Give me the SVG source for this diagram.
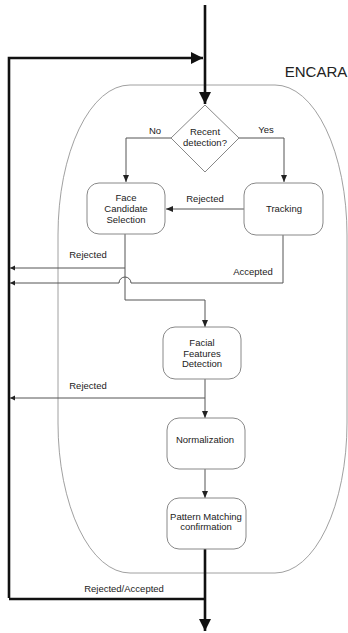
<svg xmlns="http://www.w3.org/2000/svg" width="348" height="633" viewBox="0 0 348 633">
<style>
text{font-family:"Liberation Sans",Arial,sans-serif;font-size:9.5px;fill:#222;text-anchor:middle}
.box{fill:#fff;stroke:#888;stroke-width:1}
.thin{fill:none;stroke:#555;stroke-width:1}
.thick{fill:none;stroke:#111;stroke-width:2.6}
</style>
<defs>
<marker id="ah" markerWidth="8" markerHeight="8" refX="7" refY="4" orient="auto" markerUnits="userSpaceOnUse"><path d="M0,1 L7,4 L0,7 Z" fill="#222"/></marker>
<marker id="as" markerWidth="6" markerHeight="6" refX="5" refY="3" orient="auto" markerUnits="userSpaceOnUse"><path d="M0,0.5 L5,3 L0,5.5 Z" fill="#222"/></marker>
<marker id="ab" markerWidth="14" markerHeight="14" refX="12" refY="7" orient="auto" markerUnits="userSpaceOnUse"><path d="M0,1 L12,7 L0,13 Z" fill="#111"/></marker>
</defs>
<g id="encara">
<rect x="58" y="85" width="289" height="488" rx="72" ry="150" fill="none" stroke="#888" stroke-width="0.8"/>
<text x="316" y="77" style="font-size:15px">ENCARA</text>
</g>
<g id="connectors">
<path class="thick" d="M205,5 V104" marker-end="url(#ab)"/>
<path class="thick" d="M9,598 V58 H203" marker-end="url(#ab)"/>
<path class="thick" d="M205,549 V631" marker-end="url(#ab)"/>
<path class="thick" d="M9,599 H205"/>
<path class="thin" d="M171,138 H126 V182" marker-end="url(#ah)"/>
<path class="thin" d="M239,138 H284 V182" marker-end="url(#ah)"/>
<path class="thin" d="M244,209 H166" marker-end="url(#ah)"/>
<path class="thin" d="M125,234 V300 H205 V327" marker-end="url(#ah)"/>
<path class="thin" d="M125,268 H10" marker-end="url(#as)"/>
<path class="thin" d="M283,235 V283 H131 A6,6 0 0 0 119,283 H10" marker-end="url(#as)"/>
<path class="thin" d="M205,379 V418" marker-end="url(#ah)"/>
<path class="thin" d="M205,398 H10" marker-end="url(#as)"/>
<path class="thin" d="M205,469 V498" marker-end="url(#ah)"/>
<text x="155" y="134">No</text>
<text x="266" y="133">Yes</text>
<text x="205" y="202">Rejected</text>
<text x="88" y="258">Rejected</text>
<text x="253" y="275">Accepted</text>
<text x="88" y="389">Rejected</text>
<text x="124" y="592">Rejected/Accepted</text>
</g>
<g id="decision">
<polygon class="box" points="205,105 239,138 205,172 171,138"/>
<text x="205" y="135">Recent</text>
<text x="205" y="146">detection?</text>
</g>
<g id="face-candidate">
<rect class="box" x="87" y="183" width="78" height="51" rx="12"/>
<text x="126" y="201">Face</text>
<text x="126" y="212">Candidate</text>
<text x="126" y="223">Selection</text>
</g>
<g id="tracking">
<rect class="box" x="244" y="183" width="79" height="52" rx="12"/>
<text x="284" y="212">Tracking</text>
</g>
<g id="facial-features">
<rect class="box" x="163" y="327" width="78" height="52" rx="12"/>
<text x="202" y="346">Facial</text>
<text x="202" y="357">Features</text>
<text x="202" y="367">Detection</text>
</g>
<g id="normalization">
<rect class="box" x="167" y="418" width="78" height="51" rx="12"/>
<text x="205" y="443">Normalization</text>
</g>
<g id="pattern-matching">
<rect class="box" x="167" y="498" width="79" height="51" rx="12"/>
<text x="206" y="520">Pattern Matching</text>
<text x="206" y="530">confirmation</text>
</g>
</svg>
